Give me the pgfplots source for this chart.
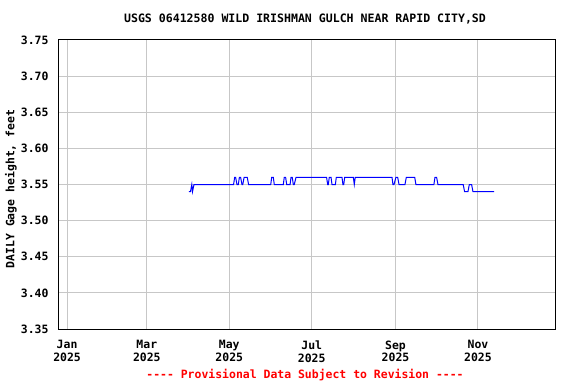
\documentclass[border=0pt]{standalone}
\usepackage{pgfplots}
\pgfplotsset{compat=1.18}
\usepackage{fontspec}
\setmainfont{DejaVu Sans Mono}[BoldFont={DejaVu Sans Mono Bold}]
\begin{document}
\begin{tikzpicture}[x=1bp,y=1bp]
\useasboundingbox (0,0) rectangle (576,384);
\begin{axis}[
  at={(58bp,55bp)}, anchor=south west,
  scale only axis, width=497bp, height=289bp,
  xmin=-6.7, xmax=361, ymin=3.35, ymax=3.75,
  xtick={0,59,120,181,243,304},
  xticklabels={Jan\\2025,Mar\\2025,May\\2025,Jul\\2025,Sep\\2025,Nov\\2025},
  xticklabel style={align=center, font=\fontsize{11.5}{13}\selectfont\bfseries, yshift=-8bp},
  ytick={3.35,3.40,...,3.76},
  yticklabel style={font=\fontsize{11.5}{12}\selectfont\bfseries, xshift=-6bp},
  /pgf/number format/.cd, fixed, fixed zerofill, precision=2, assume math mode=true,
  /pgfplots/.cd,
  major tick length=0pt,
  grid=major,
  major grid style={color=black!22, line width=1bp},
  axis line style={black, line width=1bp},
  clip=true,
]
\addplot[color=blue, line width=1bp] coordinates {
(90.2,3.54)(91.3,3.54)(92.3,3.55)(92.8,3.54)(93.9,3.55)
(123.2,3.55)(124,3.56)(124.7,3.56)(125.7,3.55)(126.7,3.55)(127.5,3.56)(128.4,3.56)(129.4,3.55)(130,3.55)(131,3.56)(133.3,3.56)(134.3,3.55)
(150.7,3.55)(151.4,3.56)(152.6,3.56)(153.3,3.55)
(160,3.55)(160.7,3.56)(161.7,3.56)(162.5,3.55)(165,3.55)(165.7,3.56)(166.6,3.56)(167.4,3.55)(168.1,3.55)(169.4,3.56)
(192,3.56)(192.8,3.55)(193.3,3.55)(194,3.56)(195.3,3.56)(196,3.55)(198.5,3.55)(199.2,3.56)(203.4,3.56)(204.1,3.55)(204.7,3.55)(205.4,3.56)(211.8,3.56)(212.5,3.55)(213.2,3.56)
(240.4,3.56)(241.1,3.55)(241.9,3.55)(243.3,3.56)(244.6,3.56)(245.6,3.55)(250,3.55)(251,3.56)(257.2,3.56)(258.1,3.55)
(271.4,3.55)(272.2,3.56)(273.4,3.56)(274.4,3.55)(293.1,3.55)(294.1,3.54)(296.6,3.54)(297.6,3.55)(299.3,3.55)(300.3,3.54)(316,3.54)
};
\end{axis}
\node[font=\fontsize{11.6}{12}\selectfont\bfseries] at (305,365) {USGS 06412580 WILD IRISHMAN GULCH NEAR RAPID CITY,SD};
\node[rotate=90, font=\fontsize{11.5}{12}\selectfont\bfseries] at (11,195) {DAILY Gage height, feet};
\node[text=red, font=\fontsize{11.5}{12}\selectfont\bfseries] at (305,9) {{-}{-}{-}{-} Provisional Data Subject to Revision {-}{-}{-}{-}};
\end{tikzpicture}
\end{document}
